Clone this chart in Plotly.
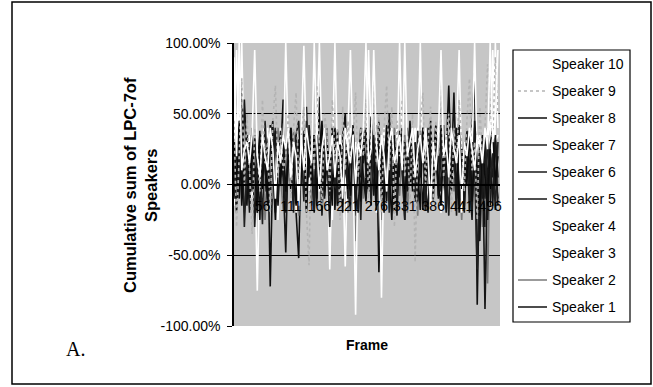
import plotly.graph_objects as go

# ---------------- data (values in percent) ----------------
frame_step = 5
speaker_names = ["Speaker 1", "Speaker 2", "Speaker 3", "Speaker 4", "Speaker 5",
                 "Speaker 6", "Speaker 7", "Speaker 8", "Speaker 9", "Speaker 10"]

s1 = [5, 30, -10, 68, 20, -15, 35, 0, 25, -20,
      30, 10, -5, 38, -72, 15, 40, -10, 20, 60,
      -12, 25, 5, 35, -20, -52, 30, 10, 55, -5,
      20, 35, -15, 62, 10, -8, 28, 0, 40, -18,
      22, 5, 35, 50, -10, 25, 15, -22, 30, 5,
      38, -10, 20, 30, -5, 42, -62, 15, 25, -12,
      50, 10, -20, 32, 5, 28, -15, 40, 0, 22,
      -8, 35, 15, -18, 30, 10, 45, -5, 25, 0,
      38, -15, 20, 70, 5, 30, -10, 42, 15, -20,
      28, 0, 35, 79, -85, 20, 10, -30, 40, -15,
      25, 5, -10]
s2 = [20, -5, 40, 10, -20, 25, 5, 30, -15, 20,
      0, 35, -25, 15, 30, -10, 22, 40, 5, -18,
      30, 10, -5, 38, 15, -22, 25, 0, 42, 10,
      -15, 28, 5, 35, -8, 20, 40, -28, 18, 5,
      32, -12, 25, 10, -20, 38, 0, -40, 22, 15,
      -10, 35, 20, -5, 30, 8, 45, -25, 18, 0,
      28, -15, 40, 12, -8, 25, 35, -20, 15, 30,
      5, -22, 38, 10, -5, 28, 18, -12, 42, 0,
      22, 35, -18, 10, 30, -5, 48, 15, -25, 20,
      8, 38, -12, 25, 0, 30, -30, 15, -70, 22,
      10, 35, 0]
s3 = [30, 95, 20, 40, 5, 25, 35, -10, 20, -75,
      15, 30, 45, 0, 25, 35, -15, 20, 40, 10,
      100, 25, 5, 30, -20, 40, 15, 35, 0, 20,
      25, -10, 35, 100, 20, 5, 30, 15, -25, 40,
      10, 30, 20, -5, 35, 95, 15, -92, 25, 30,
      5, 40, 20, -15, 30, 10, 35, -80, 20, 25,
      40, 0, 30, 15, 100, 25, -10, 35, 20, 5,
      30, 40, -15, 20, 10, 35, 25, 0, 30, 15,
      -20, 40, 20, 30, 5, 25, 35, 95, 10, 20,
      30, -10, 40, 15, 25, 35, 5, 20, 30, 45,
      15, 100, 40]
s4 = [-15, 25, 35, 100, 10, 30, -5, 40, 20, 5,
      35, -20, 25, 40, 10, 30, 15, -25, 38, 20,
      5, 30, 40, -10, 25, 15, 35, 98, 20, -5,
      30, 10, 40, 20, -15, 35, 25, -60, 30, 100,
      15, 35, 20, -58, 25, 40, 10, 30, -10, 35,
      20, 5, 95, 30, 15, -20, 35, 25, 40, 10,
      -5, 30, 20, 40, 15, 35, -15, 25, 10, 30,
      40, 20, 100, 5, 35, -10, 25, 15, 30, 40,
      10, -15, 35, 20, 30, 5, 40, 25, -20, 30,
      15, 35, 20, 100, 10, 30, -5, 25, 40, 20,
      95, 30, 35]
s5 = [0, 25, 40, -10, 60, 15, -20, 30, 5, 20,
      -25, 35, 10, -5, 28, 15, 38, -15, 22, 5,
      -48, 30, 12, -8, 35, 45, 0, 25, -12, 38,
      10, -20, 30, 5, 42, -10, 25, 15, 0, 35,
      -15, 28, 10, 38, -5, 22, 30, -18, 15, 40,
      5, -12, 32, 20, -8, 35, 10, 28, -15, 42,
      0, 25, 15, -22, 38, 10, 30, -5, 45, 18,
      -12, 30, 5, 40, -18, 22, 35, 0, 28, -10,
      42, 15, -20, 35, 10, 65, -8, 30, 20, -15,
      38, 5, -25, 45, 15, -40, 30, -88, 10, 25,
      -15, 35, 5]
s6 = [10, -20, 30, 55, 0, 25, -10, 40, -30, 15,
      35, 0, 22, -15, 30, 45, -8, 20, 38, 5,
      -20, 28, 40, 10, -12, 32, 0, 25, -18, 42,
      15, -5, 35, 25, -22, 30, 10, -8, 40, 20,
      -15, 28, 5, 35, -10, 22, 38, 0, -20, 30,
      15, 40, -5, 25, 10, -18, 35, 20, -10, 30,
      45, 0, 25, -15, 32, 10, -25, 38, 5, 20,
      30, -12, 15, 40, 0, -20, 28, 10, 35, -8,
      20, 42, -15, 30, 5, 25, -22, 38, 10, -5,
      32, 15, -18, 40, 0, 28, -10, 35, -25, 20,
      5, 30, -15]
s7 = [-10, 25, 5, 40, -30, 15, 30, -5, 35, 0,
      20, -28, 45, 10, -5, 38, -20, 25, 5, 30,
      -10, 40, 15, -20, 35, 0, 28, -12, 45, 5,
      25, -18, 32, 10, -5, 40, 20, -30, 30, 0,
      38, -10, 25, 10, 0, -18, 35, 10, 28, -25,
      40, 5, 30, -15, 35, 0, 45, -10, 20, 35,
      -20, 40, 10, -8, 30, 15, -25, 35, 5, 22,
      -12, 38, 10, 28, -18, 40, 5, -10, 30, 20,
      -5, 35, 15, -22, 28, 10, 40, -15, 25, 5,
      38, -20, 30, 10, -60, 25, 15, -10, 35, 0,
      22, -18, 30]
s8 = [30, 0, 45, -15, 20, 35, -8, 28, 10, -20,
      38, 5, 25, -10, 42, 15, -25, 30, 0, 35,
      -5, 20, 40, 10, -15, 30, 5, 38, -20, 25,
      0, 35, -10, 22, 45, -5, 30, 10, -15, 40,
      5, 28, -20, 35, 10, -8, 42, 0, 25, -12,
      30, 15, -5, 48, 20, -15, 35, 5, -20, 40,
      10, -25, 35, 0, 22, 40, -12, 15, 30, -5,
      25, 10, -18, 38, 5, 30, -10, 20, 42, 0,
      -15, 28, 10, 35, -5, 22, 40, -20, 15, 30,
      0, 38, -12, 25, 10, -22, 35, 5, -15, 28,
      40, 0, 20]
s9 = [45, -30, 20, 75, 0, 50, 10, -35, 40, 25,
      -5, 60, 15, 30, -20, 45, 70, 5, 35, 10,
      20, 50, -10, 40, 65, 0, 30, 55, -20, -57,
      45, 10, 70, 25, -15, 50, 35, -5, 60, 20,
      40, -25, 55, 10, 45, 20, 30, 65, 5, 40,
      20, 60, -10, 35, 75, 15, 50, -20, 40, 70,
      10, 55, -30, 45, 20, 60, 5, 35, -15, 50,
      -55, 25, 40, 65, 0, 30, 55, -10, 45, 20,
      70, 5, 35, 50, -20, 40, 15, 60, 25, -5,
      45, 75, 10, 30, -25, 55, 20, 40, 85, 60,
      30, 90, 50]
s10 = [90, 20, 100, 10, 25, 30, 15, 35, 95, 20,
       5, 35, 20, 10, 40, 25, -10, 30, 15, 35,
       25, 40, 5, 30, 20, -15, 35, 10, 40, 25,
       15, 100, 30, -5, 25, 40, 10, 20, 35, 5,
       30, 20, -10, 40, 25, 15, 35, 0, 30, 20,
       40, 100, 15, 25, 95, 30, 10, 35, 20, -5,
       30, 40, 15, 25, 35, 10, 100, 20, 30, 40,
       5, 25, 35, 15, 40, 20, -15, 30, 10, 35,
       95, 20, 30, 5, 40, 25, 15, 35, -10, 30,
       20, 40, 25, 10, 35, 30, 15, 40, 25, 100,
       30, 45, 95]
series = [s1, s2, s3, s4, s5, s6, s7, s8, s9, s10]

x_tick_vals = [56, 111, 166, 221, 276, 331, 386, 441, 496]
x_tick_text = ["56", "111", "166", "221", "276", "331", "386", "441", "496"]
y_tick_vals = [-1.0, -0.5, 0.0, 0.5, 1.0]
y_tick_text = ["-100.00%", "-50.00%", "0.00%", "50.00%", "100.00%"]

# ---------------- styles ----------------
colors = ["#101010", "#7a7a7a", "#ffffff", "#ffffff", "#151515",
          "#1a1a1a", "#202020", "#0c0c0c", "#b4b4b4", "#ffffff"]
dashes = ["solid"] * 8 + ["dot", "solid"]
FONT = "Liberation Sans, Arial, sans-serif"

fig = go.Figure()
for name, vals, col, dsh in zip(speaker_names, series, colors, dashes):
    frames = [1 + frame_step * i for i in range(len(vals))]
    fig.add_trace(go.Scatter(
        x=frames, y=[v / 100 for v in vals], mode="lines", name=name,
        line=dict(color=col, width=1.6, dash=dsh),
        showlegend=False, hoverinfo="skip"))

W, H = 653, 387
L, R, T, B = 234, 153, 43, 61
pw, ph = W - L - R, H - T - B

def px_x(x):
    return (x - L) / pw

def px_y(y):
    return (H - B - y) / ph

fig.update_layout(
    width=W, height=H,
    margin=dict(l=L, r=R, t=T, b=B, pad=0, autoexpand=False),
    paper_bgcolor="white", plot_bgcolor="#c6c6c6",
    font=dict(family=FONT, size=14, color="black"),
    showlegend=False,
    xaxis=dict(range=[1, 515], anchor="free", position=0.5,
               tickvals=x_tick_vals, ticktext=x_tick_text,
               showgrid=False, zeroline=False,
               showline=True, linecolor="black", linewidth=1.5,
               ticks="outside", ticklen=4, tickcolor="black",
               ticklabelstandoff=5,
               tickfont=dict(family=FONT, size=14, color="black")),
    yaxis=dict(range=[-1, 1], tickvals=y_tick_vals, ticktext=y_tick_text,
               showgrid=True, gridcolor="black", gridwidth=1.2,
               zeroline=False, showline=True, linecolor="black", linewidth=1.5,
               ticks="outside", ticklen=5, tickcolor="black",
               ticklabelstandoff=4,
               tickfont=dict(family=FONT, size=14, color="black")),
)

# outer frame of the chart
fig.add_shape(type="rect", xref="paper", yref="paper",
              x0=px_x(12), x1=px_x(651), y0=px_y(384), y1=px_y(2),
              line=dict(color="black", width=1.5), fillcolor="rgba(0,0,0,0)", layer="below")

# legend box (drawn by hand, top to bottom: Speaker 10 ... Speaker 1)
fig.add_shape(type="rect", xref="paper", yref="paper",
              x0=px_x(513), x1=px_x(630), y0=px_y(322), y1=px_y(50),
              line=dict(color="black", width=1.2), fillcolor="white", layer="above")
for k, (name, col, dsh) in enumerate(zip(speaker_names, colors, dashes)):
    yy = 307 - 27.0 * k
    fig.add_shape(type="line", xref="paper", yref="paper",
                  x0=px_x(518), x1=px_x(547), y0=px_y(yy), y1=px_y(yy),
                  line=dict(color=col, width=1.5, dash=dsh), layer="above")
    fig.add_annotation(text=name, xref="paper", yref="paper",
                       x=px_x(550), y=px_y(yy), xanchor="left", yanchor="middle",
                       showarrow=False, font=dict(family=FONT, size=14, color="black"))

fig.add_annotation(text="<b>Cumulative sum of LPC-7of<br>Speakers</b>",
                   xref="paper", yref="paper", x=px_x(118.5), y=px_y(185),
                   textangle=-90, showarrow=False,
                   font=dict(family=FONT, size=16.5, color="black"))
fig.add_annotation(text="<b>Frame</b>", xref="paper", yref="paper",
                   x=px_x(367), y=px_y(355), showarrow=False,
                   font=dict(family=FONT, size=14, color="black"))
fig.add_annotation(text="A.", xref="paper", yref="paper",
                   x=px_x(64), y=px_y(362), showarrow=False,
                   font=dict(family="Liberation Serif, Times New Roman, serif", size=20, color="black"))

fig.write_html("out.html", config={"displayModeBar": False},
               post_script="document.body.style.margin='0px';document.body.style.overflow='hidden';")
